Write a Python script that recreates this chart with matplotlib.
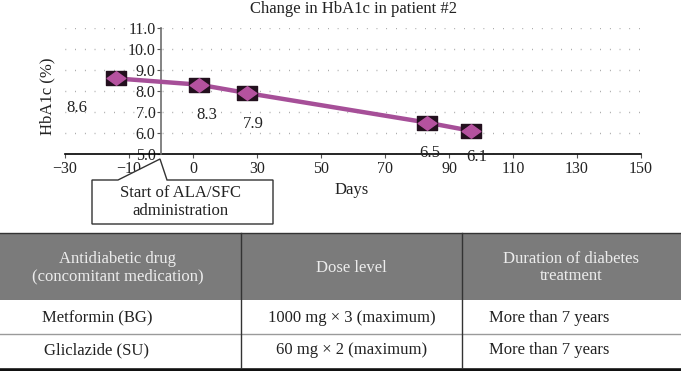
import matplotlib
matplotlib.use("Agg")
import matplotlib.pyplot as plt
from matplotlib.patches import Rectangle, Polygon
from matplotlib.path import Path
import matplotlib.lines as mlines

plt.rcParams['font.family'] = ['Liberation Serif', 'DejaVu Serif']

# ---------------- data ----------------
days = [-14, 12, 27, 83, 97]
hba1c = [8.6, 8.3, 7.9, 6.5, 6.1]
point_labels = ["8.6", "8.3", "7.9", "6.5", "6.1"]
xtick_values = [-30, -10, 10, 30, 50, 70, 90, 110, 130, 150]
xtick_labels = ["\u221230", "\u221210", "0", "30", "50", "70", "90", "110", "130", "150"]
ytick_values = [5.0, 6.0, 7.0, 8.0, 9.0, 10.0, 11.0]
ytick_labels = ["5.0", "6.0", "7.0", "8.0", "9.0", "10.0", "11.0"]
title = "Change in HbA1c in patient #2"
xlabel = "Days"
ylabel = "HbA1c (%)"
callout_text = "Start of ALA/SFC\nadministration"

table_header = ["Antidiabetic drug\n(concomitant medication)", "Dose level",
                "Duration of diabetes\ntreatment"]
table_rows = [["Metformin (BG)", "1000 mg \u00d7 3 (maximum)", "More than 7 years"],
              ["Gliclazide (SU)", "60 mg \u00d7 2 (maximum)", "More than 7 years"]]

# ---------------- figure ----------------
W, H = 681, 371
fig = plt.figure(figsize=(W / 100, H / 100), dpi=100)

def fx(px):
    return px / W

def fy(py):
    return 1 - py / H

ax_left, ax_right, ax_top, ax_bottom = 65, 641, 28, 154
ax = fig.add_axes([fx(ax_left), fy(ax_bottom), fx(ax_right - ax_left), (ax_bottom - ax_top) / H])
ax.set_xlim(-30, 150)
ax.set_ylim(5, 11)

for s in ["top", "right"]:
    ax.spines[s].set_visible(False)
ax.spines["left"].set_position(("data", 0))
ax.spines["left"].set_color("#6e6e6e")
ax.spines["left"].set_linewidth(1.2)
ax.spines["bottom"].set_color("black")
ax.spines["bottom"].set_linewidth(1.2)
ax.spines["bottom"].set_zorder(1)

ax.set_xticks(xtick_values)
ax.set_xticklabels(xtick_labels)
ax.set_yticks(ytick_values)
ax.set_yticklabels(ytick_labels)
ax.tick_params(axis="x", direction="out", length=3, width=0.8, color="#555555",
               labelsize=11.5, pad=2, labelcolor="#222222")
ax.tick_params(axis="y", direction="out", length=3, width=0.8, color="#555555",
               labelsize=11.5, pad=1, labelcolor="#222222")

ax.yaxis.grid(True, linestyle=(0, (0.5, 6.5)), color="#8a8a8a", linewidth=1.0)
ax.set_axisbelow(True)

# line
ax.plot(days, hba1c, color="#a64f98", linewidth=3.2, solid_capstyle="butt", zorder=3)
rect_marker = Path([(-1, -0.72), (1, -0.72), (1, 0.72), (-1, 0.72), (-1, -0.72)],
                   [Path.MOVETO, Path.LINETO, Path.LINETO, Path.LINETO, Path.CLOSEPOLY])
diamond_marker = Path([(-1, 0), (0, 0.72), (1, 0), (0, -0.72), (-1, 0)],
                      [Path.MOVETO, Path.LINETO, Path.LINETO, Path.LINETO, Path.CLOSEPOLY])
ax.plot(days, hba1c, linestyle="none", marker=rect_marker, markersize=14,
        markerfacecolor="#23101e", markeredgecolor="#23101e", zorder=4)
ax.plot(days, hba1c, linestyle="none", marker=diamond_marker, markersize=13.5,
        markerfacecolor="#b5529f", markeredgecolor="#b5529f", zorder=5)

label_offsets = [(-28, -21), (5, -22), (4, -22), (2, -22), (4, -19)]
for x, y, t, off in zip(days, hba1c, point_labels, label_offsets):
    ax.annotate(t, (x, y), xytext=off, textcoords="offset points",
                ha="center", va="center", fontsize=12, color="#222222", zorder=6)

fig.text(fx(353), fy(9), title, ha="center", va="center", fontsize=12, color="#222222")
fig.text(fx(352), fy(190), xlabel, ha="center", va="center", fontsize=12, color="#222222")
fig.text(fx(47), fy(96), ylabel, ha="center", va="center", rotation=90, fontsize=12, color="#222222")

# callout
pts = [(92, 180), (118, 180), (160, 159), (167, 180), (273, 180), (273, 224), (92, 224)]
fig.patches.append(Polygon([(fx(a), fy(b)) for a, b in pts], closed=True, transform=fig.transFigure,
                           facecolor="white", edgecolor="#333333", linewidth=1.0, zorder=5))
fig.text(fx(180), fy(202), callout_text, ha="center", va="center", fontsize=12,
         color="#222222", linespacing=1.15, zorder=6)

# ---------------- table ----------------
col_edges = [0, 241, 462, 681]
hdr_top, hdr_bot, row_sep, tbl_bot = 233, 300, 334, 368
fig.patches.append(Rectangle((0, fy(hdr_bot)), 1, (hdr_bot - hdr_top) / H, transform=fig.transFigure,
                             facecolor="#7b7b7b", edgecolor="none", zorder=1))
def hline(py, color, lw):
    fig.lines.append(mlines.Line2D([0, 1], [fy(py), fy(py)], transform=fig.transFigure,
                                   color=color, linewidth=lw, zorder=2))
def vline(px, y0, y1, color, lw):
    fig.lines.append(mlines.Line2D([fx(px), fx(px)], [fy(y0), fy(y1)], transform=fig.transFigure,
                                   color=color, linewidth=lw, zorder=2))
hline(hdr_top, "#333333", 1.0)
hline(row_sep, "#9a9a9a", 1.0)
hline(tbl_bot + 1.5, "#111111", 2.6)
for c in col_edges[1:-1]:
    vline(c, hdr_top, tbl_bot, "#333333", 1.0)

hdr_x = [118, 351, 571]
for x, t in zip(hdr_x, table_header):
    fig.text(fx(x), fy((hdr_top + hdr_bot) / 2 + 1), t, ha="center", va="center",
             fontsize=12, color="#ececec", linespacing=1.1, zorder=3)

row_y = [318, 350]
for r, yy in zip(table_rows, row_y):
    fig.text(fx(97), fy(yy), r[0], ha="center", va="center", fontsize=12, color="#222222", zorder=3)
    fig.text(fx(352), fy(yy), r[1], ha="center", va="center", fontsize=12, color="#222222", zorder=3)
    fig.text(fx(489), fy(yy), r[2], ha="left", va="center", fontsize=12, color="#222222", zorder=3)

fig.savefig("out.png", dpi=100)
